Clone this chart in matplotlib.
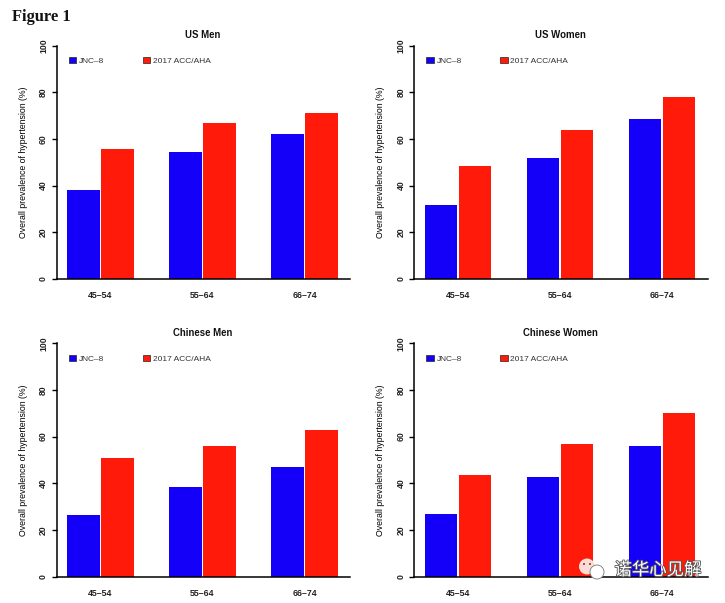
import matplotlib
matplotlib.use("Agg")
import matplotlib.pyplot as plt
import matplotlib.patheffects as pe
from matplotlib.patches import Circle, Patch
import numpy as np

W, H = 725, 603

titles = ["US Men", "US Women", "Chinese Men", "Chinese Women"]
ages = ["45\u201354", "55\u201364", "66\u201374"]
jnc8 = [[38, 54.3, 62], [31.5, 52, 68.5], [26.5, 38.5, 47], [27, 42.5, 56]]
acc_aha = [[55.7, 66.8, 71], [48.3, 64, 78], [51, 56, 63], [43.5, 57, 70]]
yticks = [0, 20, 40, 60, 80, 100]

BLUE = "#1400f8"
RED = "#ff1a0a"
DARK = "#222222"

plt.rcParams["font.family"] = ["Liberation Sans", "Noto Sans CJK SC", "DejaVu Sans"]

fig = plt.figure(figsize=(W / 100, H / 100), dpi=100)

# left spine px, top (y=100) px, bottom (y=0) px
panels = [(56.5, 45.5, 279), (414, 45.5, 279), (56.5, 343.3, 576.5), (414, 343.3, 576.5)]
AX_W = 293.5
PX_UNIT = 34  # one bar slot in pixels

for i, (x0, ytop, ybot) in enumerate(panels):
    ax = fig.add_axes([x0 / W, 1 - ybot / H, AX_W / W, (ybot - ytop) / H])
    pos = np.arange(3) * 3 + 1.294
    ax.bar(pos - 0.5, jnc8[i], width=0.97, color=BLUE)
    ax.bar(pos + 0.5, acc_aha[i], width=0.97, color=RED)
    ax.set_xlim(0, AX_W / PX_UNIT)
    ax.set_ylim(0, 100)
    ax.spines["top"].set_visible(False)
    ax.spines["right"].set_visible(False)
    ax.spines["left"].set_linewidth(1.1)
    ax.spines["bottom"].set_linewidth(1.1)
    ax.set_yticks(yticks)
    ax.set_yticklabels(yticks, rotation=90, va="center", fontsize=6.2, fontweight="bold", color=DARK)
    ax.tick_params(axis="y", length=3.6, width=1.0, pad=2.5)
    ax.set_xticks(pos)
    ax.set_xticklabels(ages, fontsize=6.3, fontweight="bold", color=DARK)
    ax.tick_params(axis="x", length=0, pad=9)
    ax.set_ylabel("Overall prevalence of hypertension (%)", fontsize=6.3, color="#000000", labelpad=8)
    fig.text((x0 + 146.5) / W, 1 - (ytop - 10) / H, titles[i], ha="center", va="center",
             fontsize=6.9, fontweight="bold", color="#111111")

    handles = [Patch(facecolor=BLUE, edgecolor="#222222", linewidth=0.5, label="JNC\u20138"),
               Patch(facecolor=RED, edgecolor="#222222", linewidth=0.5, label="2017 ACC/AHA")]
    ax.legend(handles=handles, loc="upper left", bbox_to_anchor=(0.0425, 0.95), ncol=2, frameon=False,
              fontsize=6.0, handlelength=0.85, handleheight=0.72, handletextpad=0.35,
              columnspacing=4.65, borderpad=0, borderaxespad=0, labelcolor="#333333")

fig.text(12 / W, 1 - 17 / H, "Figure 1", fontsize=11.9, fontweight="bold",
         family=["Liberation Serif", "DejaVu Serif"], ha="left", va="center", color="#111111")

# watermark, pixel coordinates
over = fig.add_axes([0, 0, 1, 1], facecolor="none")
over.set_xlim(0, W)
over.set_ylim(H, 0)
over.axis("off")
over.add_patch(Circle((587, 566.5), 8, facecolor="#fbdcd4", edgecolor="none"))
over.add_patch(Circle((584, 564), 1, facecolor="#a02030", edgecolor="none"))
over.add_patch(Circle((590, 564), 1, facecolor="#a02030", edgecolor="none"))
over.add_patch(Circle((597, 572), 7, facecolor="white", edgecolor="#777777", linewidth=0.6))
over.text(658, 570, "诺华心见解", fontsize=12.5, color="white", ha="center", va="center",
          family=["Noto Sans CJK SC", "DejaVu Sans"],
          path_effects=[pe.withStroke(linewidth=1.2, foreground="#555555")])

fig.savefig("out.png", dpi=100)
